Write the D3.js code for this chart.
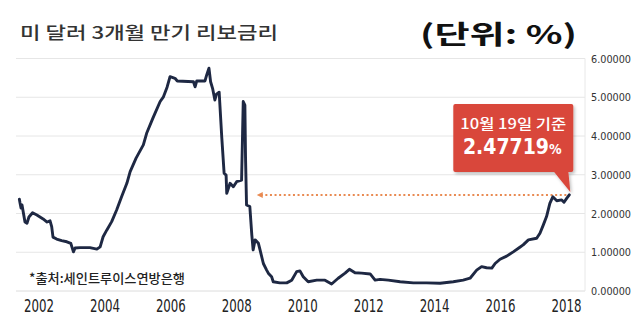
<!DOCTYPE html>
<html>
<head>
<meta charset="utf-8">
<script src="https://cdn.jsdelivr.net/npm/d3@7"></script>
<style>
  body { margin: 0; background: #fff; }
  svg { display: block; }
</style>
</head>
<body>
<svg id="chart" width="640" height="333"></svg>
<script>
// 3-month USD LIBOR (decimal year, %)
const years = [
  2001.42, 2001.44, 2001.47, 2001.50, 2001.59, 2001.65, 2001.71, 2001.82, 2001.95, 2002.14,
  2002.26, 2002.35, 2002.40, 2002.44, 2002.55, 2002.70, 2002.86, 2002.98, 2003.06, 2003.11,
  2003.26, 2003.56, 2003.77, 2003.87, 2003.96, 2004.07, 2004.22, 2004.37, 2004.52, 2004.68,
  2004.78, 2004.96, 2005.18, 2005.28, 2005.47, 2005.69, 2005.79, 2005.90, 2005.99, 2006.14,
  2006.21, 2006.70, 2006.75, 2006.80, 2007.05, 2007.10, 2007.17, 2007.22, 2007.28, 2007.35,
  2007.40, 2007.48, 2007.56, 2007.63, 2007.69, 2007.71, 2007.81, 2007.91, 2008.01, 2008.16,
  2008.19, 2008.21, 2008.26, 2008.28, 2008.31, 2008.41, 2008.47, 2008.51, 2008.57, 2008.67,
  2008.72, 2008.82, 2008.92, 2008.97, 2009.07, 2009.12, 2009.32, 2009.53, 2009.68, 2009.83,
  2009.93, 2010.03, 2010.18, 2010.44, 2010.69, 2010.89, 2011.09, 2011.30, 2011.43, 2011.60,
  2011.80, 2012.06, 2012.21, 2012.36, 2012.61, 2012.97, 2013.37, 2013.77, 2014.18, 2014.58,
  2014.88, 2015.09, 2015.29, 2015.44, 2015.59, 2015.75, 2015.85, 2016.00, 2016.20, 2016.40,
  2016.60, 2016.70, 2016.86, 2017.11, 2017.21, 2017.31, 2017.41, 2017.51, 2017.60, 2017.72,
  2017.87, 2017.94, 2018.02, 2018.10
];
const rates = [
  2.37, 2.27, 2.14, 2.22, 1.78, 1.75, 1.91, 2.02, 1.96, 1.86,
  1.78, 1.81, 1.66, 1.39, 1.34, 1.30, 1.27, 1.23, 1.01, 1.11,
  1.12, 1.12, 1.08, 1.14, 1.40, 1.57, 1.79, 2.09, 2.43, 2.78,
  3.08, 3.43, 3.77, 4.07, 4.46, 4.89, 5.01, 5.26, 5.53, 5.49,
  5.42, 5.40, 5.27, 5.42, 5.42, 5.57, 5.75, 5.40, 5.23, 4.93,
  5.08, 5.13, 3.95, 3.04, 2.99, 2.52, 2.78, 2.69, 2.82, 2.86,
  4.07, 4.89, 4.80, 3.42, 2.22, 2.18, 1.45, 1.06, 1.32, 1.23,
  1.06, 0.71, 0.54, 0.46, 0.37, 0.24, 0.21, 0.21, 0.28, 0.50,
  0.52, 0.37, 0.24, 0.28, 0.28, 0.18, 0.33, 0.46, 0.56, 0.47,
  0.46, 0.44, 0.28, 0.30, 0.28, 0.24, 0.21, 0.21, 0.20, 0.24,
  0.28, 0.33, 0.54, 0.63, 0.60, 0.59, 0.71, 0.82, 0.90, 1.01,
  1.13, 1.19, 1.32, 1.36, 1.49, 1.70, 1.92, 2.26, 2.43, 2.33,
  2.35, 2.29, 2.39, 2.48
];
const yearTicks = [2002, 2004, 2006, 2008, 2010, 2012, 2014, 2016, 2018];
const rateTicks = [0, 1, 2, 3, 4, 5, 6];

const titleText = "미 달러 3개월 만기 리보금리";
const unitText = "(단위: %)";
const sourceText = "*출처:세인트루이스연방은행";
const calloutDate = "10월 19일 기준";
const latestRate = 2.47719;
const arrowFromYear = 2008.62;

const numFont = "'Liberation Sans Narrow', 'Arial Narrow', 'DejaVu Sans Condensed', sans-serif";
const krFont = "'Noto Sans CJK KR', 'Noto Sans', sans-serif";

const svg = d3.select("#chart");
const plotLeft = 16, plotRight = 585;

const x = d3.scaleLinear().domain([2002, 2018]).range([38.5, 566]);
const y = d3.scaleLinear().domain([0, 6]).range([291, 58.5]);

const defs = svg.append("defs");
const shadow = defs.append("filter").attr("id", "shadow")
  .attr("x", "-10%").attr("y", "-10%").attr("width", "130%").attr("height", "140%");
shadow.append("feDropShadow")
  .attr("dx", 1.5).attr("dy", 2).attr("stdDeviation", 1.5)
  .attr("flood-color", "#000").attr("flood-opacity", 0.25);

// gridlines
svg.append("g").selectAll("line")
  .data(rateTicks)
  .join("line")
  .attr("x1", plotLeft).attr("x2", plotRight)
  .attr("y1", d => y(d)).attr("y2", d => y(d))
  .attr("stroke", d => d === 0 ? "#dcdcdc" : "#e6e6e6")
  .attr("stroke-width", 1);

svg.append("line")
  .attr("x1", plotRight).attr("x2", plotRight)
  .attr("y1", y(6)).attr("y2", y(0))
  .attr("stroke", "#e8e8e8");

// right axis labels
const yAxis = svg.append("g")
  .attr("transform", "translate(591,0)")
  .call(d3.axisRight(y).tickValues(rateTicks).tickFormat(d3.format(".5f")).tickSize(0).tickPadding(0));
yAxis.select(".domain").remove();
yAxis.selectAll("text")
  .attr("font-family", numFont)
  .attr("font-size", 11)
  .attr("fill", "#333")
  .attr("textLength", 40)
  .attr("lengthAdjust", "spacingAndGlyphs");

// bottom axis labels
const xAxis = svg.append("g")
  .attr("transform", "translate(0,300)")
  .call(d3.axisBottom(x).tickValues(yearTicks).tickFormat(d3.format("d")).tickSize(0).tickPadding(0));
xAxis.select(".domain").remove();
xAxis.selectAll("text")
  .attr("font-family", numFont)
  .attr("font-size", 17)
  .attr("fill", "#222")
  .attr("textLength", 30)
  .attr("lengthAdjust", "spacingAndGlyphs");

// dotted reference arrow at the latest value
const lastYear = years[years.length - 1];
svg.append("line")
  .attr("x1", x(arrowFromYear) + 4).attr("x2", x(lastYear))
  .attr("y1", y(latestRate)).attr("y2", y(latestRate))
  .attr("stroke", "#e98a52")
  .attr("stroke-width", 2.2)
  .attr("stroke-dasharray", "2,2.6");
svg.append("path")
  .attr("d", d3.line()([
    [x(arrowFromYear), y(latestRate)],
    [x(arrowFromYear) + 6, y(latestRate) - 3],
    [x(arrowFromYear) + 6, y(latestRate) + 3]
  ]) + "Z")
  .attr("fill", "#e98a52");

// rate line
const line = d3.line()
  .x((d, i) => x(years[i]))
  .y(d => y(d));

svg.append("path")
  .datum(rates)
  .attr("fill", "none")
  .attr("stroke", "#1e2843")
  .attr("stroke-width", 2.9)
  .attr("stroke-linejoin", "round")
  .attr("stroke-linecap", "round")
  .attr("d", line);

// callout
const tipX = x(lastYear) + 1, tipY = y(latestRate) - 3;
const boxRight = tipX + 3, boxLeft = boxRight - 120;
const boxBottom = tipY - 20, boxTop = boxBottom - 68;
const callout = svg.append("g").attr("filter", "url(#shadow)");
callout.append("rect")
  .attr("x", boxLeft).attr("y", boxTop)
  .attr("width", boxRight - boxLeft).attr("height", boxBottom - boxTop)
  .attr("rx", 2)
  .attr("fill", "#d9463a");
callout.append("path")
  .attr("d", d3.line()([[boxRight - 20, boxBottom - 1], [boxRight - 5, boxBottom - 1], [tipX, tipY]]) + "Z")
  .attr("fill", "#d9463a");

const midX = (boxLeft + boxRight) / 2;
svg.append("text")
  .attr("x", midX).attr("y", boxTop + 25)
  .attr("text-anchor", "middle")
  .attr("font-family", krFont)
  .attr("font-size", 14)
  .attr("font-weight", 500)
  .attr("fill", "#fff")
  .attr("textLength", 106)
  .attr("lengthAdjust", "spacingAndGlyphs")
  .text(calloutDate);

const valText = svg.append("text")
  .attr("x", midX - 1).attr("y", boxTop + 50)
  .attr("text-anchor", "middle")
  .attr("font-family", numFont)
  .attr("font-weight", "bold")
  .attr("fill", "#fff");
valText.append("tspan").attr("font-size", 21).text(d3.format(".5f")(latestRate));
valText.append("tspan").attr("font-size", 14).text("%");

// titles
svg.append("text")
  .attr("x", 20).attr("y", 39)
  .attr("font-family", krFont)
  .attr("font-size", 17)
  .attr("font-weight", 500)
  .attr("fill", "#333")
  .attr("textLength", 258)
  .attr("lengthAdjust", "spacingAndGlyphs")
  .text(titleText);

svg.append("text")
  .attr("x", 420).attr("y", 44)
  .attr("font-family", krFont)
  .attr("font-size", 26)
  .attr("font-weight", "bold")
  .attr("fill", "#111")
  .attr("textLength", 157)
  .attr("lengthAdjust", "spacingAndGlyphs")
  .text(unitText);

svg.append("text")
  .attr("x", 29).attr("y", 283)
  .attr("font-family", krFont)
  .attr("font-size", 13)
  .attr("font-weight", 500)
  .attr("fill", "#222")
  .attr("textLength", 156)
  .attr("lengthAdjust", "spacingAndGlyphs")
  .text(sourceText);
</script>
</body>
</html>
